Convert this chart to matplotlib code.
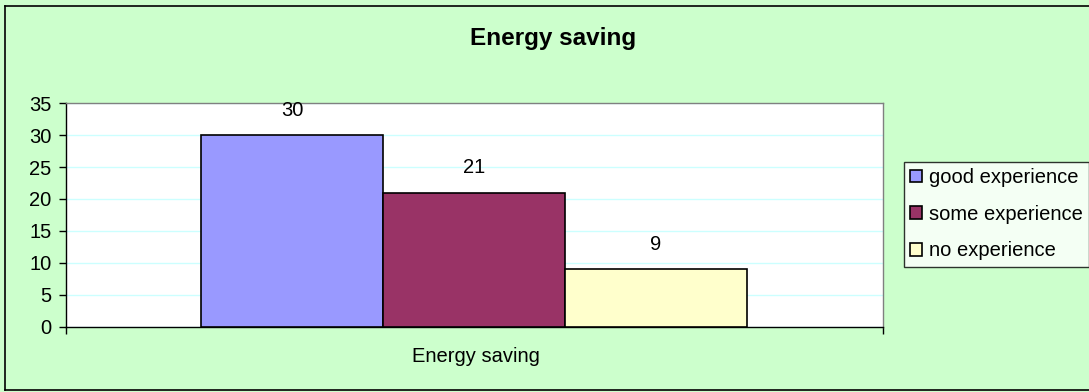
import matplotlib
matplotlib.use("Agg")
import matplotlib.pyplot as plt
from matplotlib.lines import Line2D

title = "Energy saving"
category = "Energy saving"
series = ["good experience", "some experience", "no experience"]
values = [30, 21, 9]
colors = ["#9999FF", "#993366", "#FFFFCC"]
yticks = [0, 5, 10, 15, 20, 25, 30, 35]

plt.rcParams['font.family'] = ['Liberation Sans', 'DejaVu Sans']

W, H = 1089, 392
fig = plt.figure(figsize=(W / 100, H / 100), dpi=100)
fig.patch.set_facecolor("#CCFFCC")

# figure border (left, top, bottom)
for xs, ys in [((5 / W, 5 / W), (2 / H, 1 - 6 / H)),
               ((5 / W, 1.01), (1 - 6 / H, 1 - 6 / H)),
               ((5 / W, 1.01), (2 / H, 2 / H))]:
    fig.add_artist(Line2D(xs, ys, color="black", lw=1.2, transform=fig.transFigure))

ax = fig.add_axes([66 / W, 65.5 / H, 817 / W, 223.2 / H])
ax.set_facecolor("white")
ax.set_xlim(0, 1)
ax.set_ylim(0, 35)

fs = 14.5
bw = 182 / 817
center = 0.4994
for i, (s, v, c) in enumerate(zip(series, values, colors)):
    x = center + (i - 1) * bw
    ax.bar(x, v, width=bw, color=c, edgecolor="black", linewidth=1.2, label=s, zorder=3)
    ax.annotate(str(v), (x, v), xytext=(0, 18), textcoords="offset points",
                ha="center", va="center", fontsize=fs)

ax.set_yticks(yticks)
ax.set_yticklabels([str(t) for t in yticks], fontsize=fs)
ax.yaxis.grid(True, color="#CCFFFF", lw=1, zorder=0)
ax.set_xticks([0, 1])
ax.set_xticklabels(["", ""])
ax.tick_params(axis="y", direction="out", length=5, width=1, pad=5.5)
ax.tick_params(axis="x", direction="out", length=5, width=1)
ax.set_xlabel(category, fontsize=fs)
ax.xaxis.set_label_coords(0.502, -0.09)

for side in ["left", "bottom"]:
    ax.spines[side].set_color("black")
    ax.spines[side].set_linewidth(1)
for side in ["top", "right"]:
    ax.spines[side].set_color("#808080")
    ax.spines[side].set_linewidth(1)

fig.text(553 / W, 1 - 38 / H, title, ha="center", va="center",
         fontsize=17.5, fontweight="bold")

leg = fig.legend(loc="upper left", bbox_to_anchor=(904 / W, 1 - 162 / H),
                 fontsize=fs, frameon=True, fancybox=False, edgecolor="black",
                 handlelength=0.6, handleheight=0.6, handletextpad=0.35,
                 labelspacing=0.88, borderpad=0.3, borderaxespad=0)
leg.get_frame().set_linewidth(1)
leg.get_frame().set_facecolor("white")

fig.savefig("out.png", dpi=100, facecolor=fig.get_facecolor())
